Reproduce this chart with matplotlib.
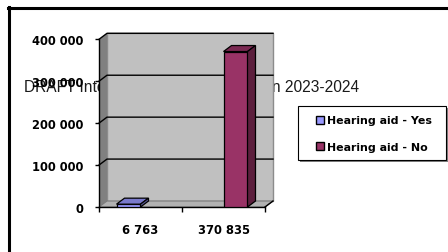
import matplotlib
matplotlib.use('Agg')
import matplotlib.pyplot as plt
from matplotlib.patches import Polygon, Rectangle, Patch
from matplotlib.lines import Line2D

# ---- data ----
categories = ["6 763", "370 835"]
series_names = ["Hearing aid - Yes", "Hearing aid - No"]
yes_values = [6763, 0]
no_values = [0, 370835]
y_ticks = [0, 100000, 200000, 300000, 400000]
y_tick_labels = ["0", "100 000", "200 000", "300 000", "400 000"]
draft_text = "DRAFT Integrated Development Plan 2023-2024"

# ---- styles ----
W, H = 448, 253
front_cols = ["#9999FF", "#993366"]
top_cols = ["#7A7ACC", "#7A2952"]
side_cols = ["#5C5C99", "#5C1F3D"]

fig = plt.figure(figsize=(W / 100, H / 100), dpi=100)


def fx(px):
    return px / W


def fy(py):
    return 1 - py / H


# background text (behind the chart)
fig.text(fx(24), fy(87.5), draft_text, fontsize=11.2, family="Liberation Sans",
         color="#1a1a1a", va="center", ha="left", zorder=-1)

# outer frame
fig.add_artist(Line2D([fx(7.5), fx(460)], [fy(9), fy(9)], transform=fig.transFigure,
                      color="black", lw=2.2, zorder=-2))
fig.add_artist(Line2D([fx(9), fx(9)], [fy(7.5), fy(260)], transform=fig.transFigure,
                      color="black", lw=2.2, zorder=-2))

ax = fig.add_axes([fx(99), fy(208), (265 - 99) / W, (208 - 40.3) / H])
ax.set_xlim(-0.5, 1.5)
ax.set_ylim(0, 400000)
ax.patch.set_visible(False)

ppx = (265 - 99) / 2.0
ppy = (208 - 40.3) / 400000.0
DX = 8 / ppx
DY = 6 / ppy
x0, x1 = -0.5, 1.5
ymax = 400000

# back wall
ax.add_patch(Rectangle((x0 + DX, DY), x1 - x0, ymax, facecolor="#C0C0C0",
                       edgecolor="#8C8C8C", lw=1.0, clip_on=False, zorder=0.5))
# side wall
ax.add_patch(Polygon([(x0, 0), (x0, ymax), (x0 + DX, ymax + DY), (x0 + DX, DY)],
                     closed=True, facecolor="#808080", edgecolor="none",
                     clip_on=False, zorder=0.6))
# floor
ax.add_patch(Polygon([(x0, 0), (x1, 0), (x1 + DX, DY), (x0 + DX, DY)], closed=True,
                     facecolor="#B2B2B2", edgecolor="#7A7A7A", lw=0.8,
                     clip_on=False, zorder=0.7))
ax.plot([x1, x1 + DX], [0, DY], color="black", lw=1.0, clip_on=False, zorder=0.8)

# gridlines
for yv in y_ticks[1:]:
    ax.plot([x0, x0 + DX, x1 + DX], [yv, yv + DY, yv + DY], color="black",
            lw=1.0, clip_on=False, zorder=1)

# bars
n = len(categories)
bw = 24 / ppx
xs = list(range(n))
for si, vals in enumerate([yes_values, no_values]):
    offs = -bw / 2 if si == 0 else bw / 2
    for i, v in enumerate(vals):
        if v <= 0:
            continue
        xc = xs[i] + offs
        bx0, bx1 = xc - bw / 2, xc + bw / 2
        ax.bar([xc], [v], width=bw, color=front_cols[si], edgecolor="black",
               lw=0.9, zorder=3)
        ax.add_patch(Polygon([(bx0, v), (bx1, v), (bx1 + DX, v + DY), (bx0 + DX, v + DY)],
                             closed=True, facecolor=top_cols[si], edgecolor="black",
                             lw=0.9, clip_on=False, zorder=3.1))
        ax.add_patch(Polygon([(bx1, 0), (bx1 + DX, DY), (bx1 + DX, v + DY), (bx1, v)],
                             closed=True, facecolor=side_cols[si], edgecolor="black",
                             lw=0.9, clip_on=False, zorder=3.1))

# axes
for s in ["top", "right"]:
    ax.spines[s].set_visible(False)
for s in ["left", "bottom"]:
    ax.spines[s].set_color("black")
    ax.spines[s].set_linewidth(1.0)
    ax.spines[s].set_zorder(2)

tick_font = dict(family="DejaVu Sans", weight="bold", size=8.3)
ax.set_yticks(y_ticks)
ax.set_yticklabels(y_tick_labels, fontdict=tick_font)
ax.tick_params(axis="y", direction="out", length=3, width=1, pad=8.5, colors="black")
ax.set_xticks([x0, 0.5, x1])
ax.set_xticklabels([])
ax.tick_params(axis="x", which="major", direction="out", length=3.5, width=1)
ax.set_xticks(xs, minor=True)
ax.set_xticklabels(categories, minor=True, fontdict=tick_font)
ax.tick_params(axis="x", which="minor", length=0, pad=11.5)

# legend frame
fig.add_artist(Rectangle((fx(300), fy(163)), (446 - 298) / W, (161 - 107) / H,
                         transform=fig.transFigure, facecolor="#808080",
                         edgecolor="none", zorder=4))
fig.add_artist(Rectangle((fx(298), fy(161)), (446 - 298) / W, (161 - 107) / H,
                         transform=fig.transFigure, facecolor="white",
                         edgecolor="black", lw=0.8, zorder=4.1))
handles = [Patch(facecolor=front_cols[i], edgecolor="black", lw=1.0)
           for i in range(len(series_names))]
leg = fig.legend(handles, series_names, loc="upper left",
                 bbox_to_anchor=(fx(315.5), fy(116.5)), bbox_transform=fig.transFigure,
                 frameon=False, borderpad=0, borderaxespad=0,
                 prop=dict(family="DejaVu Sans", weight="bold", size=7.9),
                 handlelength=0.75, handleheight=0.75, handletextpad=0.3,
                 labelspacing=1.5)
leg.set_zorder(5)

fig.savefig("out.png", dpi=100)
